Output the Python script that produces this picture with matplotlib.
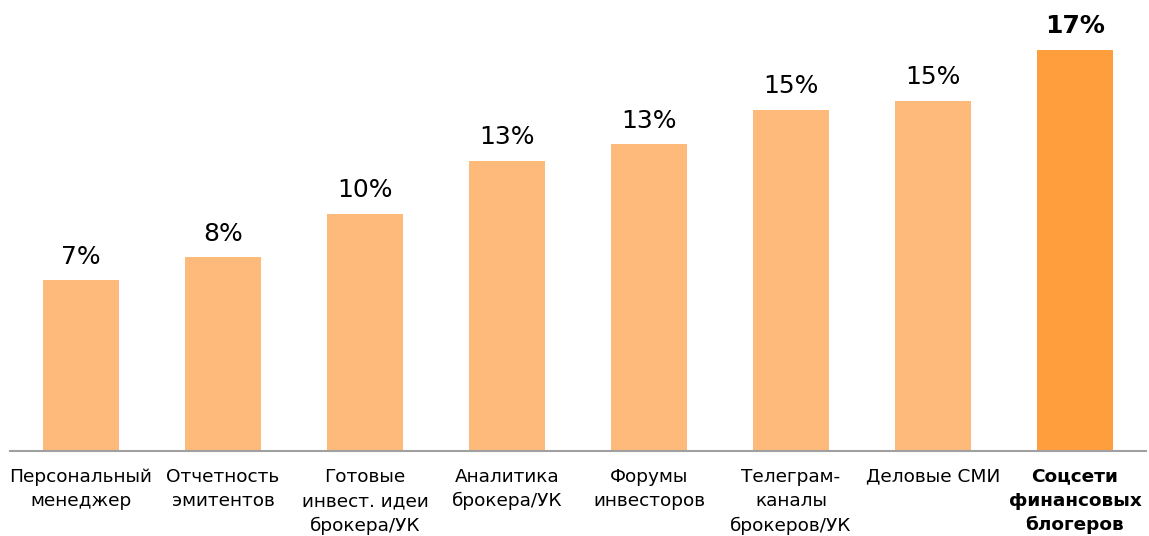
import matplotlib.pyplot as plt

# Категории и значения
categories = ["Персональный\nменеджер", "Отчетность\nэмитентов", "Готовые\nинвест. идеи\nброкера/УК",
              "Аналитика\nброкера/УК", "Форумы\nинвесторов", "Телеграм-\nканалы\nброкеров/УК",
              "Деловые СМИ", "Соцсети\nфинансовых\nблогеров"]
values = [7.4, 8.4, 10.3, 12.6, 13.3, 14.8, 15.2, 17.4]
value_labels = ["7%", "8%", "10%", "13%", "13%", "15%", "15%", "17%"]

light = "#FDBA7A"
dark = "#FF9E3D"
colors = [light] * 7 + [dark]

plt.rcParams['font.family'] = ['DejaVu Sans']

fig = plt.figure(figsize=(11.49, 5.36), dpi=100)
ax = fig.add_axes([10 / 1149, 85 / 536, 1136 / 1149, 451 / 536])

x = range(len(categories))
bars = ax.bar(x, values, width=0.53, color=colors)

# подписи значений над столбцами
for i, (b, lab) in enumerate(zip(bars, value_labels)):
    ax.annotate(lab, (b.get_x() + b.get_width() / 2, b.get_height()),
                xytext=(0, 12), textcoords='offset points',
                ha='center', va='baseline', fontsize=18,
                fontweight='bold' if i == len(values) - 1 else 'normal')

ax.set_xlim(-0.5, 7.5)
ax.set_ylim(0, values[-1] * 451 / 401)
ax.set_xticks(list(x))
ax.set_xticklabels(categories, fontsize=13.3, linespacing=1.45)
ax.get_xticklabels()[-1].set_fontweight('bold')
ax.tick_params(axis='x', length=0, pad=12)
ax.set_yticks([])

for s in ['top', 'right', 'left']:
    ax.spines[s].set_visible(False)
ax.spines['bottom'].set_color('#A0A0A0')
ax.spines['bottom'].set_linewidth(1.5)

fig.savefig("out.png", dpi=100)
